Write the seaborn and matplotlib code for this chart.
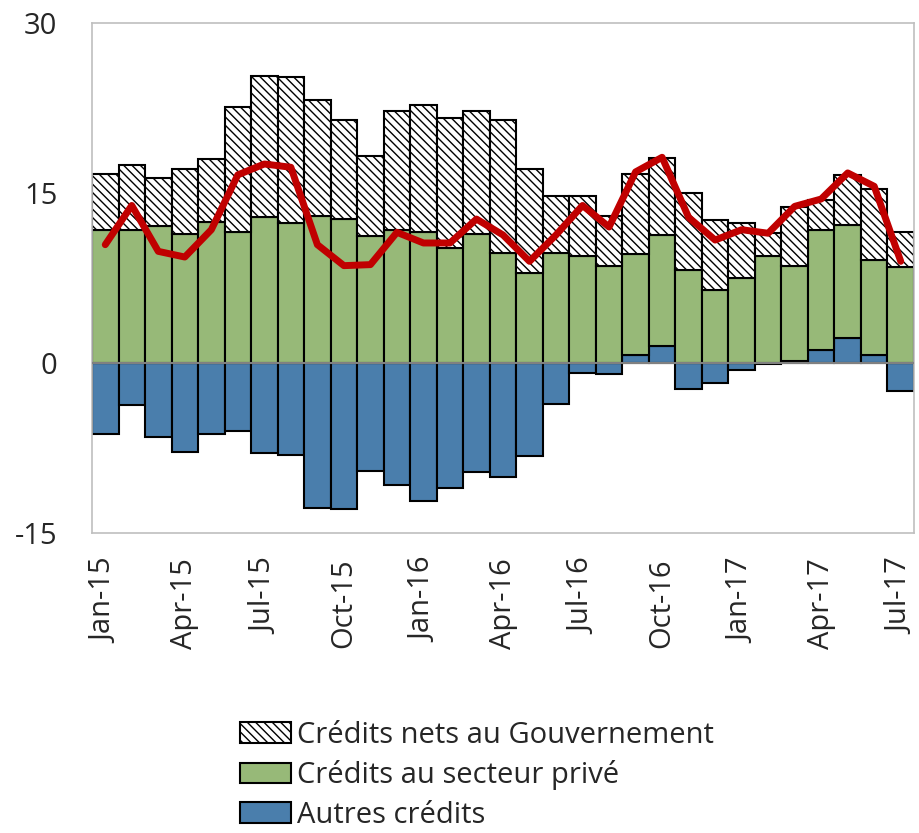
import matplotlib
matplotlib.use('Agg')
import matplotlib.pyplot as plt
from matplotlib.patches import Patch
import seaborn as sns
import numpy as np
import pandas as pd

months = ['Jan-15', 'Feb-15', 'Mar-15', 'Apr-15', 'May-15', 'Jun-15', 'Jul-15', 'Aug-15',
          'Sep-15', 'Oct-15', 'Nov-15', 'Dec-15', 'Jan-16', 'Feb-16', 'Mar-16', 'Apr-16',
          'May-16', 'Jun-16', 'Jul-16', 'Aug-16', 'Sep-16', 'Oct-16', 'Nov-16', 'Dec-16',
          'Jan-17', 'Feb-17', 'Mar-17', 'Apr-17', 'May-17', 'Jun-17', 'Jul-17']

# Crédits nets au Gouvernement
gouv = [4.93, 5.80, 4.20, 5.77, 5.50, 11.01, 12.45, 12.85, 10.27, 8.68, 7.06, 10.50,
        11.21, 11.50, 10.86, 11.74, 9.18, 5.07, 5.23, 4.41, 7.09, 6.77, 6.77, 6.12,
        4.82, 1.97, 5.15, 2.65, 4.42, 6.32, 3.09]
# Crédits au secteur privé
prive = [11.77, 11.70, 12.10, 11.38, 12.47, 11.59, 12.91, 12.35, 12.97, 12.73, 11.18, 11.70,
         11.53, 10.12, 11.41, 9.73, 7.97, 9.70, 9.47, 8.53, 8.86, 9.85, 8.23, 6.47,
         7.50, 9.47, 8.44, 10.53, 10.03, 8.33, 8.44]
# Autres crédits
autres = [-6.24, -3.74, -6.56, -7.86, -6.24, -6.03, -7.92, -8.10, -12.83, -12.92, -9.56, -10.80,
          -12.18, -11.06, -9.65, -10.04, -8.24, -3.59, -0.86, -0.97, 0.73, 1.47, -2.27, -1.77,
          -0.59, -0.10, 0.15, 1.17, 2.17, 0.73, -2.50]
# total (ligne rouge)
total = [10.44, 13.90, 9.85, 9.35, 11.76, 16.60, 17.56, 17.27, 10.44, 8.59, 8.68, 11.53,
         10.59, 10.59, 12.70, 11.30, 8.97, 11.30, 13.90, 12.00, 16.86, 18.15, 12.85, 10.85,
         11.76, 11.45, 13.82, 14.47, 16.77, 15.59, 8.97]

labels = ['Crédits nets au Gouvernement', 'Crédits au secteur privé', 'Autres crédits']
c_gouv = 'white'
c_prive = '#97B978'
c_autres = '#4A7EAC'
c_total = '#C00000'

sns.set_style('white')
plt.rcParams['font.family'] = ['Open Sans', 'DejaVu Sans']
plt.rcParams['hatch.linewidth'] = 1.0
plt.rcParams['axes.unicode_minus'] = False

df = pd.DataFrame({'mois': months, 'gouv': gouv, 'prive': prive,
                   'autres': autres, 'total': total})
df['pos'] = np.arange(len(df))
# empilement : le privé repose sur les autres crédits positifs
base_prive = df['autres'].clip(lower=0)
base_gouv = base_prive + df['prive']

fig = plt.figure(figsize=(9.19, 8.33), dpi=100)
ax = fig.add_axes([92 / 919, 1 - 533 / 833, 822 / 919, 510 / 833])

bar_kw = dict(width=1.0, saturation=1, errorbar=None, edgecolor='black',
              linewidth=1.5, ax=ax, order=months)
sns.barplot(data=df, x='mois', y='autres', color=c_autres, **bar_kw)
sns.barplot(data=df, x='mois', y='prive', color=c_prive, bottom=base_prive, **bar_kw)
sns.barplot(data=df, x='mois', y='gouv', color=c_gouv, bottom=base_gouv,
            hatch='\\\\\\\\', **bar_kw)

ax.axhline(0, color='#808080', linewidth=1.5, zorder=3)
sns.lineplot(data=df, x='pos', y='total', color=c_total, linewidth=5, ax=ax,
             zorder=4, solid_capstyle='round')

ax.set_xlim(-0.5, len(months) - 0.5)
ax.set_ylim(-15, 30)
ax.set_yticks([-15, 0, 15, 30])
ax.set_xticks(np.arange(0, len(months), 3))
ax.set_xticklabels(months[::3], rotation=90)
ax.set_xlabel('')
ax.set_ylabel('')
ax.tick_params(axis='y', direction='in', length=7, color='#A0A0A0', pad=25, labelsize=21)
ax.tick_params(axis='x', length=0, pad=18, labelsize=21)
for s in ax.spines.values():
    s.set_visible(True)
    s.set_color('#BFBFBF')
    s.set_linewidth(1.2)

handles = [Patch(facecolor=c_gouv, edgecolor='black', hatch='\\\\\\\\', linewidth=1.5),
           Patch(facecolor=c_prive, edgecolor='black', linewidth=1.5),
           Patch(facecolor=c_autres, edgecolor='black', linewidth=1.5)]
fig.legend(handles, labels, loc='upper left', bbox_to_anchor=(0.245, 1 - 706 / 833),
           frameon=False, fontsize=21, handlelength=1.75, handleheight=0.7,
           handletextpad=0.2, labelspacing=0.36, borderpad=0)

fig.savefig('out.png', dpi=100)
